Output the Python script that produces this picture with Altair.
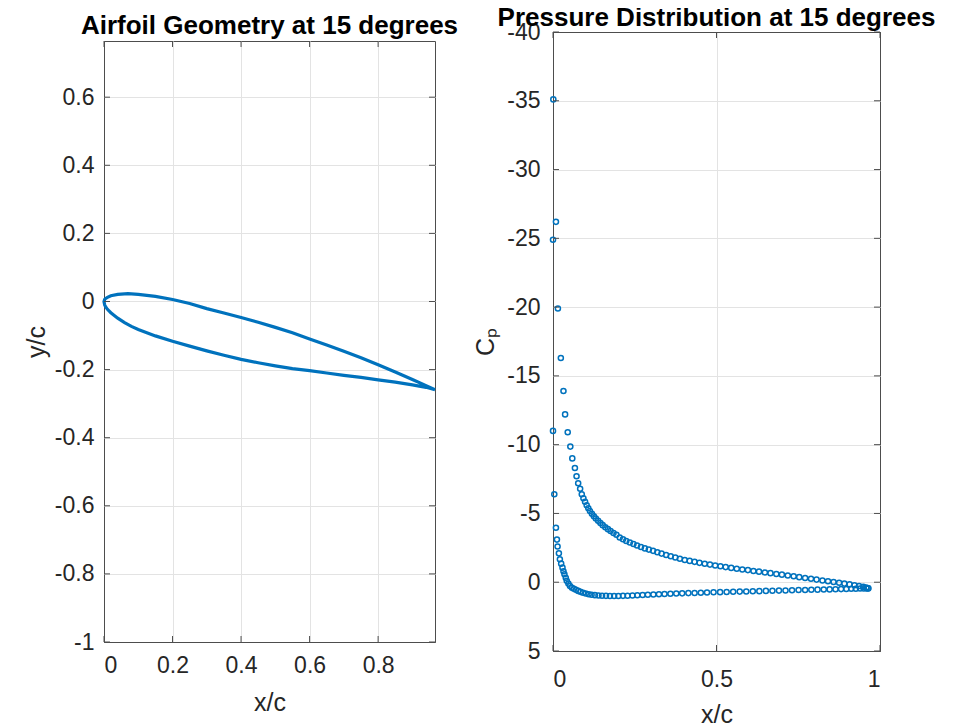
import altair as alt
import pandas as pd

# ---------------- Airfoil geometry (rotated 15 deg) ----------------
upper_x = [0.000, 0.002, 0.005, 0.010, 0.020, 0.040, 0.070, 0.100, 0.150, 0.200, 0.250, 0.300,
           0.350, 0.400, 0.450, 0.500, 0.550, 0.600, 0.650, 0.700, 0.750, 0.800, 0.850,
           0.900, 0.940, 0.966]
upper_y = [0.000, 0.006, 0.009, 0.012, 0.017, 0.021, 0.023, 0.021, 0.015, 0.006, -0.006, -0.021,
           -0.034, -0.047, -0.061, -0.076, -0.092, -0.110, -0.128, -0.146, -0.165, -0.186, -0.207,
           -0.229, -0.247, -0.259]
lower_x = [0.000, 0.002, 0.005, 0.010, 0.020, 0.040, 0.060, 0.080, 0.100, 0.150, 0.200, 0.250,
           0.300, 0.350, 0.400, 0.450, 0.500, 0.550, 0.600, 0.650, 0.700, 0.750, 0.800,
           0.850, 0.900, 0.940, 0.966]
lower_y = [0.000, -0.010, -0.016, -0.023, -0.033, -0.049, -0.062, -0.073, -0.082, -0.101, -0.117,
           -0.131, -0.145, -0.158, -0.170, -0.180, -0.189, -0.197, -0.203, -0.210, -0.217,
           -0.223, -0.230, -0.237, -0.245, -0.252, -0.259]

# ---------------- Pressure coefficient ----------------
cp_upper_x = [0.001, 0.009, 0.015, 0.024, 0.032, 0.037, 0.045, 0.053, 0.059, 0.067, 0.072, 0.077,
              0.083, 0.088, 0.093, 0.098, 0.103, 0.108, 0.113, 0.119, 0.125, 0.131, 0.138, 0.145,
              0.152, 0.160, 0.168, 0.176, 0.185, 0.194, 0.204, 0.214, 0.224, 0.235, 0.246, 0.257,
              0.269, 0.281, 0.293, 0.306, 0.319, 0.332, 0.346, 0.360, 0.374, 0.388, 0.403, 0.418,
              0.433, 0.448, 0.464, 0.480, 0.496, 0.512, 0.528, 0.545, 0.562, 0.579, 0.596, 0.613,
              0.630, 0.648, 0.665, 0.683, 0.700, 0.718, 0.736, 0.753, 0.771, 0.789, 0.806, 0.824,
              0.841, 0.858, 0.875, 0.891, 0.907, 0.922, 0.936, 0.949, 0.958, 0.964]
cp_upper = [-35.1, -26.2, -19.9, -16.3, -13.9, -12.2, -10.9, -9.86, -9.0, -8.3, -7.7, -7.2,
            -6.8, -6.4, -6.1, -5.85, -5.6, -5.38, -5.17, -4.98, -4.8, -4.63, -4.46, -4.3,
            -4.15, -4.0, -3.86, -3.72, -3.58, -3.45, -3.25, -3.12, -3.0, -2.89, -2.78, -2.67,
            -2.56, -2.46, -2.37, -2.28, -2.18, -2.08, -1.98, -1.89, -1.80, -1.71, -1.62, -1.55,
            -1.48, -1.41, -1.34, -1.28, -1.22, -1.16, -1.10, -1.04, -0.98, -0.93, -0.88, -0.82,
            -0.77, -0.71, -0.66, -0.60, -0.55, -0.49, -0.43, -0.37, -0.31, -0.25, -0.19, -0.13,
            -0.07, -0.02, 0.04, 0.10, 0.16, 0.22, 0.28, 0.34, 0.39, 0.44]
cp_lower_x = [0.000, 0.000, 0.004, 0.009, 0.012, 0.014, 0.018, 0.021, 0.025, 0.029, 0.032, 0.035,
              0.039, 0.042, 0.047, 0.052, 0.058, 0.064, 0.070, 0.077, 0.084, 0.092, 0.100, 0.109,
              0.118, 0.128, 0.139, 0.150, 0.162, 0.174, 0.187, 0.200, 0.214, 0.228, 0.243, 0.258,
              0.274, 0.290, 0.307, 0.324, 0.341, 0.359, 0.377, 0.395, 0.414, 0.433, 0.452, 0.471,
              0.491, 0.511, 0.531, 0.551, 0.571, 0.591, 0.611, 0.631, 0.651, 0.671, 0.691, 0.711,
              0.731, 0.751, 0.771, 0.790, 0.809, 0.828, 0.846, 0.864, 0.881, 0.897, 0.912, 0.926,
              0.939, 0.950, 0.959, 0.964]
cp_lower = [-24.9, -11.0, -6.4, -3.96, -3.1, -2.6, -2.1, -1.67, -1.35, -1.06, -0.8, -0.58,
            -0.33, -0.1, 0.1, 0.27, 0.4, 0.48, 0.55, 0.63, 0.7, 0.77, 0.82, 0.87,
            0.91, 0.94, 0.96, 0.98, 0.99, 1.0, 1.0, 1.0, 0.99, 0.98, 0.96, 0.95,
            0.93, 0.91, 0.89, 0.87, 0.86, 0.84, 0.82, 0.81, 0.79, 0.78, 0.76, 0.75,
            0.73, 0.72, 0.71, 0.69, 0.68, 0.67, 0.66, 0.65, 0.63, 0.62, 0.61, 0.60,
            0.58, 0.57, 0.56, 0.55, 0.54, 0.53, 0.52, 0.51, 0.50, 0.49, 0.48, 0.47,
            0.46, 0.45, 0.45, 0.45]

left_x_ticks = [0, 0.2, 0.4, 0.6, 0.8]
left_y_ticks = [-1, -0.8, -0.6, -0.4, -0.2, 0, 0.2, 0.4, 0.6]
right_x_ticks = [0, 0.5, 1]
right_y_ticks = [-40, -35, -30, -25, -20, -15, -10, -5, 0, 5]

# path around the airfoil: trailing edge -> leading edge along upper, then back along lower
path_x = list(reversed(upper_x)) + lower_x[1:]
path_y = list(reversed(upper_y)) + lower_y[1:]
geo = pd.DataFrame({"x": path_x, "y": path_y, "i": list(range(len(path_x)))})

cp = pd.DataFrame({
    "x": cp_upper_x + cp_lower_x,
    "cp": cp_upper + cp_lower,
})

BLUE = "#0072BD"
FONT = "Liberation Sans"
FRAME = "#4d4d4d"
GRID = "#e3e3e3"
LABEL_EXPR = "'' + datum.value"
TICK = 6


def edge_grid(test):
    return {"condition": {"test": test, "value": FRAME}, "value": GRID}


def inner_ticks(xs, ys, xfield, yfield, xscale, yscale, xaxis, yaxis, w, h):
    """MATLAB-style inward ticks on all four sides, placed through the scales."""
    xdf = pd.DataFrame({xfield: xs})
    ydf = pd.DataFrame({yfield: ys})
    xenc = alt.X(f"{xfield}:Q", scale=xscale, axis=xaxis)
    yenc = alt.Y(f"{yfield}:Q", scale=yscale, axis=yaxis)
    rule = dict(color=FRAME, strokeWidth=1)
    return [
        alt.Chart(xdf).mark_rule(**rule).encode(x=xenc, y=alt.value(h), y2=alt.value(h - TICK)),
        alt.Chart(xdf).mark_rule(**rule).encode(x=xenc, y=alt.value(0), y2=alt.value(TICK)),
        alt.Chart(ydf).mark_rule(**rule).encode(y=yenc, x=alt.value(0), x2=alt.value(TICK)),
        alt.Chart(ydf).mark_rule(**rule).encode(y=yenc, x=alt.value(w), x2=alt.value(w - TICK)),
    ]


# ---------------- left panel ----------------
LW, LH = 331, 601
lx_scale = alt.Scale(domain=[0, 0.966], nice=False, zero=False)
ly_scale = alt.Scale(domain=[-1, 0.765], nice=False, zero=False)
lx_axis = alt.Axis(values=left_x_ticks, title="x/c", labelPadding=12, titlePadding=13,
                   labelExpr=LABEL_EXPR, gridColor=edge_grid("datum.value == 0"))
ly_axis = alt.Axis(values=left_y_ticks, title="y/c", labelPadding=10, titlePadding=5,
                   labelExpr=LABEL_EXPR, gridColor=edge_grid("datum.value == -1"))

airfoil = alt.Chart(geo).mark_line(color=BLUE, strokeWidth=3.2, clip=False).encode(
    x=alt.X("x:Q", scale=lx_scale, axis=lx_axis),
    y=alt.Y("y:Q", scale=ly_scale, axis=ly_axis),
    order="i:Q",
)
left = alt.layer(
    airfoil,
    *inner_ticks(left_x_ticks, left_y_ticks, "x", "y", lx_scale, ly_scale, lx_axis, ly_axis, LW, LH),
).properties(
    width=LW, height=LH,
    title=alt.TitleParams("Airfoil Geometry at 15 degrees", frame="group", offset=2),
)

# ---------------- right panel ----------------
RW, RH = 327, 619
rx_scale = alt.Scale(domain=[0, 1], nice=False, zero=False)
ry_scale = alt.Scale(domain=[-40, 5], nice=False, zero=False, reverse=True)
rx_axis = alt.Axis(values=right_x_ticks, title="x/c", labelPadding=17, titlePadding=11,
                   labelExpr=LABEL_EXPR,
                   gridColor=edge_grid("datum.value == 0 || datum.value == 1"))
ry_axis = alt.Axis(values=right_y_ticks, title="Cₚ", labelPadding=13, titlePadding=8,
                   labelExpr=LABEL_EXPR,
                   gridColor=edge_grid("datum.value == -40 || datum.value == 5"))

points = alt.Chart(cp).mark_point(shape="circle", filled=False, size=26, strokeWidth=1.5,
                                  color=BLUE, opacity=1).encode(
    x=alt.X("x:Q", scale=rx_scale, axis=rx_axis),
    y=alt.Y("cp:Q", scale=ry_scale, axis=ry_axis),
)
right = alt.layer(
    points,
    *inner_ticks(right_x_ticks, right_y_ticks, "x", "cp", rx_scale, ry_scale, rx_axis, ry_axis, RW, RH),
).properties(
    width=RW, height=RH,
    title=alt.TitleParams("Pressure Distribution at 15 degrees", frame="group", offset=-10),
)

chart = alt.hconcat(left, right, spacing=118, center=True, bounds="flush").properties(
    padding={"left": 15, "top": -4, "right": 5, "bottom": 0},
    background="white",
).configure_view(
    stroke=FRAME, strokeWidth=1,
).configure_axis(
    labelFont=FONT, labelFontSize=23, labelColor="#262626",
    titleFont=FONT, titleFontSize=25, titleFontWeight="normal", titleColor="#262626",
    grid=True, gridWidth=1,
    domain=False, ticks=False,
).configure_title(
    font=FONT, fontSize=26, fontWeight="bold", color="#000000",
)

chart.save("out.html", embed_options={"renderer": "svg", "actions": False})
